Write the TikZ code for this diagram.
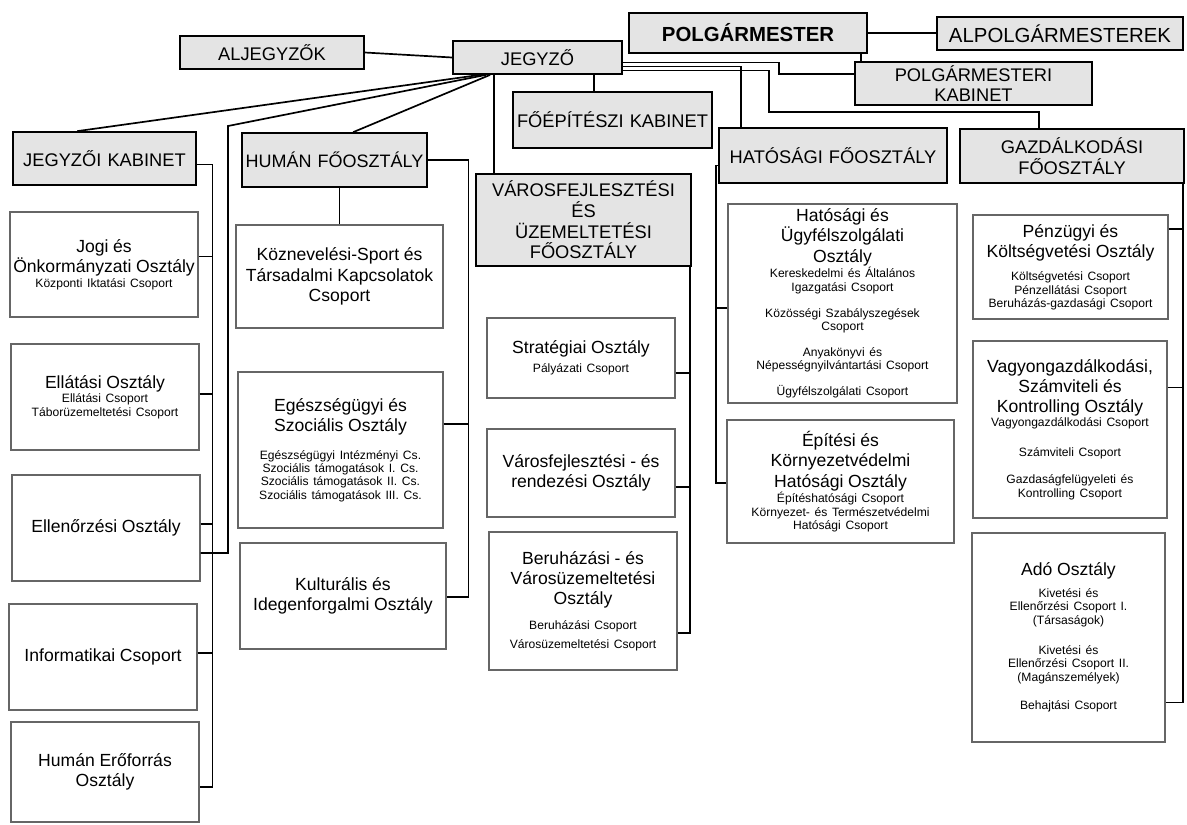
\documentclass[tikz,border=0pt]{standalone}
\usepackage{fontspec}
\setmainfont{Liberation Sans}
\usetikzlibrary{calc}
\definecolor{headgray}{HTML}{E4E4E4}
\newcommand{\osz}[1]{{\fontsize{12.5}{14.5}\selectfont #1\par}}
\newcommand{\csop}[2][3pt]{\vspace{#1}{\fontsize{8.6}{9.5}\selectfont #2\par}}

\begin{document}
\begin{tikzpicture}[x=0.025cm, y=-0.025cm,
  sz/.style 2 args={minimum width=#1*0.025cm, minimum height=#2*0.025cm,
                    text width=#1*0.025cm-2pt},
  head/.style={draw, line width=1.2pt, fill=headgray, align=center,
               inner xsep=1pt, inner ysep=0pt, font=\fontsize{13}{14.7}\selectfont},
  unit/.style={draw=black!60, line width=0.9pt, fill=white, align=center,
               inner xsep=1pt, inner ysep=0pt},
  link/.style={line width=1.2pt}
]
  \useasboundingbox (0,0) rectangle (1187,824);

  % vezetes
  \node[head, sz={184}{33}] (aljegyzok) at (272,52.5) {ALJEGYZŐK};
  \node[head, sz={169}{33}] (jegyzo) at (537.5,57.5) {JEGYZŐ};
  \node[head, sz={238}{40}, font=\bfseries\fontsize{14.5}{16}\selectfont] (polg) at (748,33) {POLGÁRMESTER};
  \node[head, sz={246}{33}, font=\fontsize{14.5}{16}\selectfont] (alpolg) at (1060,33.5) {ALPOLGÁRMESTEREK};
  \node[head, sz={237}{43}] (polgkab) at (973.5,83.5) {POLGÁRMESTERI\\KABINET};

  % foosztalyok
  \node[head, sz={183}{53}] (jkab) at (104.5,158.5) {JEGYZŐI KABINET};
  \node[head, sz={185}{54}, font=\fontsize{12.8}{14.5}\selectfont] (human) at (334.5,160) {HUMÁN FŐOSZTÁLY};
  \node[head, sz={199}{56}] (foep) at (612.5,120) {FŐÉPÍTÉSZI KABINET};
  \node[head, sz={215}{92}] (varos) at (583.5,220) {VÁROSFEJLESZTÉSI\\ÉS\\ÜZEMELTETÉSI\\FŐOSZTÁLY};
  \node[head, sz={228}{55}] (hatosagi) at (833,155.5) {HATÓSÁGI FŐOSZTÁLY};
  \node[head, sz={224}{54}] (gazd) at (1072,156) {GAZDÁLKODÁSI\\FŐOSZTÁLY};

  % jegyzoi kabinet
  \node[unit, sz={188}{105}] (jogi) at (104,264.5)
    {\osz{Jogi és\\Önkormányzati Osztály}\csop[1pt]{Központi Iktatási Csoport}};
  \node[unit, sz={188}{106}] (ellatasi) at (105,397)
    {\osz{Ellátási Osztály}\csop[1pt]{Ellátási Csoport\\Táborüzemeltetési Csoport}};
  \node[unit, sz={188}{106}] (ellenorzesi) at (106,528) {\osz{Ellenőrzési Osztály}};
  \node[unit, sz={188}{106}] (informatikai) at (103,657) {\osz{Informatikai Csoport}};
  \node[unit, sz={188}{100}] (humanero) at (105,772) {\osz{Humán Erőforrás\\Osztály}};

  % human foosztaly
  \node[unit, sz={207}{103}] (koznev) at (339.5,276.5)
    {\osz{Köznevelési-Sport és\\Társadalmi Kapcsolatok\\Csoport}};
  \node[unit, sz={205}{156}] (egesz) at (340.5,450)
    {\osz{Egészségügyi és\\Szociális Osztály}\csop[10pt]{Egészségügyi Intézményi Cs.\\Szociális támogatások I. Cs.\\Szociális támogatások II. Cs.\\Szociális támogatások III. Cs.}};
  \node[unit, sz={206}{106}] (kultur) at (343,596) {\osz{Kulturális és\\Idegenforgalmi Osztály}};

  % varosfejlesztesi foosztaly
  \node[unit, sz={188}{80}] (strat) at (581,358) {\osz{Stratégiai Osztály}\csop[4pt]{Pályázati Csoport}};
  \node[unit, sz={188}{88}] (varosrend) at (581,473) {\osz{Városfejlesztési - és\\rendezési Osztály}};
  \node[unit, sz={188}{138}] (beruh) at (583,601)
    {\osz{Beruházási - és\\Városüzemeltetési\\Osztály}\csop[8pt]{Beruházási Csoport}\csop[4pt]{Városüzemeltetési Csoport}};

  % hatosagi foosztaly
  \node[unit, sz={229}{199}] (hatugy) at (842.5,303.5)
    {\osz{Hatósági és\\Ügyfélszolgálati\\Osztály}\csop[0pt]{Kereskedelmi és Általános\\Igazgatási Csoport}\csop[9pt]{Közösségi Szabályszegések\\Csoport}\csop[9pt]{Anyakönyvi és\\Népességnyilvántartási Csoport}\csop[9pt]{Ügyfélszolgálati Csoport}};
  \node[unit, sz={227}{123}] (epitesi) at (840.5,481.5)
    {\osz{Építési és\\Környezetvédelmi\\Hatósági Osztály}\csop[0pt]{Építéshatósági Csoport\\Környezet- és Természetvédelmi\\Hatósági Csoport}};

  % gazdalkodasi foosztaly
  \node[unit, sz={195}{104}] (penzugy) at (1070.5,267)
    {\osz{Pénzügyi és\\Költségvetési Osztály}\csop[7pt]{Költségvetési Csoport\\Pénzellátási Csoport\\Beruházás-gazdasági Csoport}};
  \node[unit, sz={194}{177}] (vagyon) at (1070,429.5)
    {\osz{Vagyongazdálkodási,\\Számviteli és\\Kontrolling Osztály}\csop[0pt]{Vagyongazdálkodási Csoport}\csop[12pt]{Számviteli Csoport}\csop[10pt]{Gazdaságfelügyeleti és\\Kontrolling Csoport}};
  \node[unit, sz={193}{209}] (ado) at (1068.5,637.5)
    {\osz{Adó Osztály}\csop[6pt]{Kivetési és\\Ellenőrzési Csoport I.\\(Társaságok)}\csop[12pt]{Kivetési és\\Ellenőrzési Csoport II.\\(Magánszemélyek)}\csop[11pt]{Behajtási Csoport}};

  % felso kapcsolatok
  \draw[link] (aljegyzok.east) -- (jegyzo.west);
  \draw[link] (polg.east) -- (polg.east -| alpolg.west);
  \draw[link] ($(polgkab.north west)+(7,0)$) coordinate (pk) -- (pk |- polg.south);
  \draw[link] ($(jegyzo.east)+(0,5)$) -- ++(156,0) |- ($(polgkab.north west)+(0,13)$);
  \draw[link] ($(jegyzo.east)+(0,9)$) -| ($(hatosagi.north west)+(23,0)$);
  \draw[link] ($(jegyzo.east)+(0,13)$) -- ++(146,0) |- ($(gazd.north west)+(80,-16)$) -- ++(0,16);

  \coordinate (bend) at (228,126);
  \draw[link] ($(jegyzo.south west)+(142,0)$) coordinate (jf) -- (jf |- foep.north);
  \draw[link] ($(jegyzo.south west)+(42,0)$) coordinate (jv) -- (jv |- varos.north);
  \draw[link] ($(jegyzo.south west)+(28,0)$) -- ($(jkab.north west)+(65,0)$);
  \draw[link] ($(jegyzo.south west)+(34,0)$) -- (bend) |- ($(ellenorzesi.east)+(0,25)$);
  \draw[link] ($(jegyzo.south west)+(38,0)$) -- ($(human.north west)+(112,0)$);

  % jegyzoi kabinet
  \coordinate (lspine) at (212,0);
  \draw[link] ($(jkab.east)+(0,6)$) -| ($(humanero.east)+(13,15)$) -- ($(humanero.east)+(0,15)$);
  \foreach \u/\dy in {jogi/-8, ellatasi/-3, ellenorzesi/-4, informatikai/-4}
    \draw[link] ($(\u.east)+(0,\dy)$) coordinate (t) -- (t -| lspine);

  % human
  \draw[link] (koznev.north) -- (koznev.north |- human.south);
  \draw[link] (human.east) -| ($(kultur.east)+(22,1)$) -- ($(kultur.east)+(0,1)$);
  \draw[link] ($(egesz.east)+(0,-26)$) -- ++(25,0);

  % varosfejlesztes
  \draw[link] ($(varos.south east)+(-2,0)$) |- ($(beruh.east)+(0,32)$);
  \draw[link] ($(strat.east)+(0,15)$) -- ++(14,0);
  \draw[link] ($(varosrend.east)+(0,14)$) -- ++(14,0);

  % hatosagi
  \draw[link] ($(hatosagi.west)+(0,10)$) -- ++(-2,0) |- ($(epitesi.west)+(0,1.5)$);
  \draw[link] ($(hatugy.west)+(0,4.5)$) -- ++(-11,0);

  % gazdalkodasi
  \draw[link] ($(gazd.south east)+(-2,0)$) |- ($(ado.east)+(0,65)$);
  \draw[link] ($(penzugy.east)+(0,-38)$) -- ++(14,0);
  \draw[link] ($(vagyon.east)+(0,-42)$) -- ++(15,0);
\end{tikzpicture}
\end{document}
